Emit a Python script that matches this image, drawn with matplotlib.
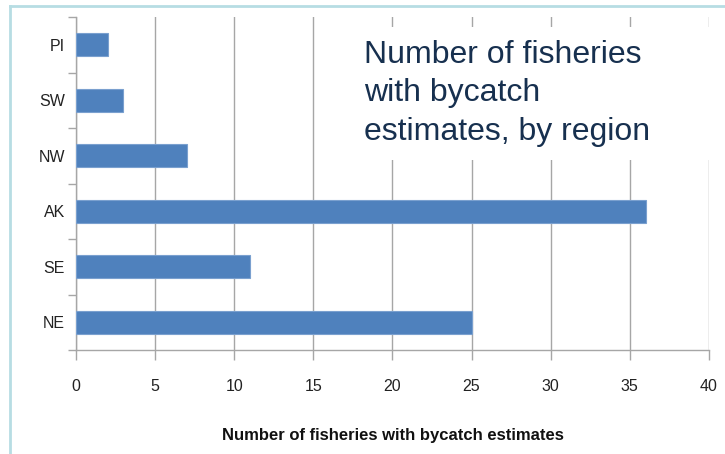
import matplotlib.pyplot as plt
from matplotlib.patches import Rectangle

regions = ["NE", "SE", "AK", "NW", "SW", "PI"]
counts = [25, 11, 36, 7, 3, 2]
xticks = [0, 5, 10, 15, 20, 25, 30, 35, 40]

plt.rcParams['font.family'] = ['Liberation Sans', 'DejaVu Sans']

fig = plt.figure(figsize=(7.25, 4.54), dpi=100)
ax = fig.add_axes([0.1048, 0.229, 0.873, 0.7335])

grid_c = "#a6a6a6"
ax.barh(range(len(regions)), counts, height=0.41, color="#4f81bd",
        edgecolor="#7aa0cf", linewidth=0.8, zorder=3)

ax.set_xlim(0, 40)
ax.set_ylim(-0.5, len(regions) - 0.5)
ax.set_xticks(xticks)
ax.set_xticklabels([str(t) for t in xticks], fontsize=11.5, color="#222222")
ax.set_yticks(range(len(regions)))
ax.set_yticklabels(regions, fontsize=11.5, color="#222222")
ax.set_yticks([i - 0.5 for i in range(len(regions) + 1)], minor=True)

ax.tick_params(axis="y", which="major", length=0, pad=8)
ax.tick_params(axis="y", which="minor", length=6, color=grid_c, width=1)
ax.tick_params(axis="x", length=7, color=grid_c, width=1, pad=14)

ax.xaxis.grid(True, color=grid_c, linewidth=1, zorder=0)
ax.set_axisbelow(True)
for s in ["top", "right"]:
    ax.spines[s].set_visible(False)
for s in ["left", "bottom"]:
    ax.spines[s].set_color(grid_c)
    ax.spines[s].set_linewidth(1)

ax.set_xlabel("Number of fisheries with bycatch estimates", fontsize=12,
              fontweight="bold", labelpad=24, color="#111111")

# white box behind the overlaid title
fig.patches.append(Rectangle((355 / 725, 1 - 160 / 454), 365 / 725, 133 / 454,
                             transform=fig.transFigure, facecolor="white",
                             edgecolor="none", zorder=5))
fig.text(364 / 725, 1 - 40 / 454,
         "Number of fisheries\nwith bycatch\nestimates, by region",
         fontsize=23, color="#17304f", va="top", ha="left",
         linespacing=1.36, zorder=6)

# light blue frame
fig.add_artist(plt.Line2D([10 / 725, 10 / 725], [0, 1 - 6 / 454],
                          transform=fig.transFigure, color="#b7dde3", lw=2))
fig.add_artist(plt.Line2D([10 / 725, 1], [1 - 6 / 454, 1 - 6 / 454],
                          transform=fig.transFigure, color="#b7dde3", lw=2))

plt.savefig("out.png", dpi=100)
